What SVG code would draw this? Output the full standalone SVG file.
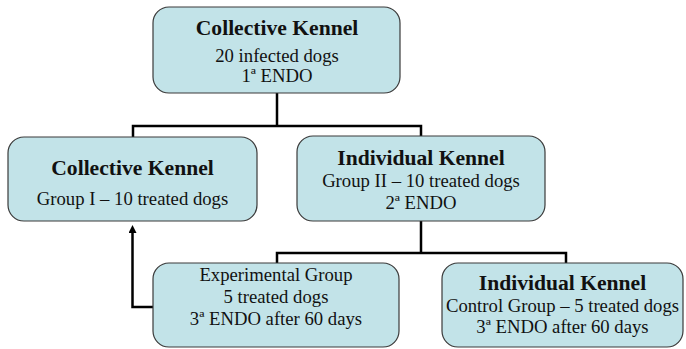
<svg xmlns="http://www.w3.org/2000/svg" width="686" height="349" viewBox="0 0 686 349">
<defs>
<style>
.box{fill:#c2e3e8;stroke:#3a3a3a;stroke-width:1.2}
text{font-family:'Liberation Serif','DejaVu Serif',serif;font-size:18.7px;fill:#111;text-anchor:middle}
.b{font-weight:bold;font-size:21.6px}
.c{fill:none;stroke:#000;stroke-width:2.5}
</style>
<marker id="ah" markerWidth="8" markerHeight="8" refX="4" refY="4" orient="auto" markerUnits="userSpaceOnUse">
<path d="M0,0 L8,4 L0,8 z" fill="#000"/>
</marker>
</defs>
<g id="connectors">
<path class="c" d="M277,93 V126 M133,137 V126 H421 V136"/>
<path class="c" d="M421,221 V253 M277,263 V253 H566 V263"/>
<path class="c" d="M153,307 H132.5 V229" marker-end="url(#ah)"/>
</g>
<g id="n-top">
<rect class="box" x="153" y="7" width="247" height="86" rx="16"/>
<text class="b" x="277" y="35">Collective Kennel</text>
<text x="277" y="62">20 infected dogs</text>
<text x="277" y="82">1ª ENDO</text>
</g>
<g id="n-collective">
<rect class="box" x="8" y="137" width="249" height="84" rx="16"/>
<text class="b" x="132.5" y="175">Collective Kennel</text>
<text x="132.5" y="205">Group I – 10 treated dogs</text>
</g>
<g id="n-individual">
<rect class="box" x="297" y="136" width="248" height="85" rx="16"/>
<text class="b" x="421" y="165">Individual Kennel</text>
<text x="421" y="187">Group II – 10 treated dogs</text>
<text x="421" y="209">2ª ENDO</text>
</g>
<g id="n-experimental">
<rect class="box" x="153" y="263" width="246" height="84" rx="16"/>
<text x="276" y="281">Experimental Group</text>
<text x="276" y="303">5 treated dogs</text>
<text x="276" y="325">3ª ENDO after 60 days</text>
</g>
<g id="n-control">
<rect class="box" x="442" y="263" width="241" height="84" rx="16"/>
<text class="b" x="562.5" y="290">Individual Kennel</text>
<text x="562.5" y="312">Control Group – 5 treated dogs</text>
<text x="562.5" y="333">3ª ENDO after 60 days</text>
</g>
</svg>
